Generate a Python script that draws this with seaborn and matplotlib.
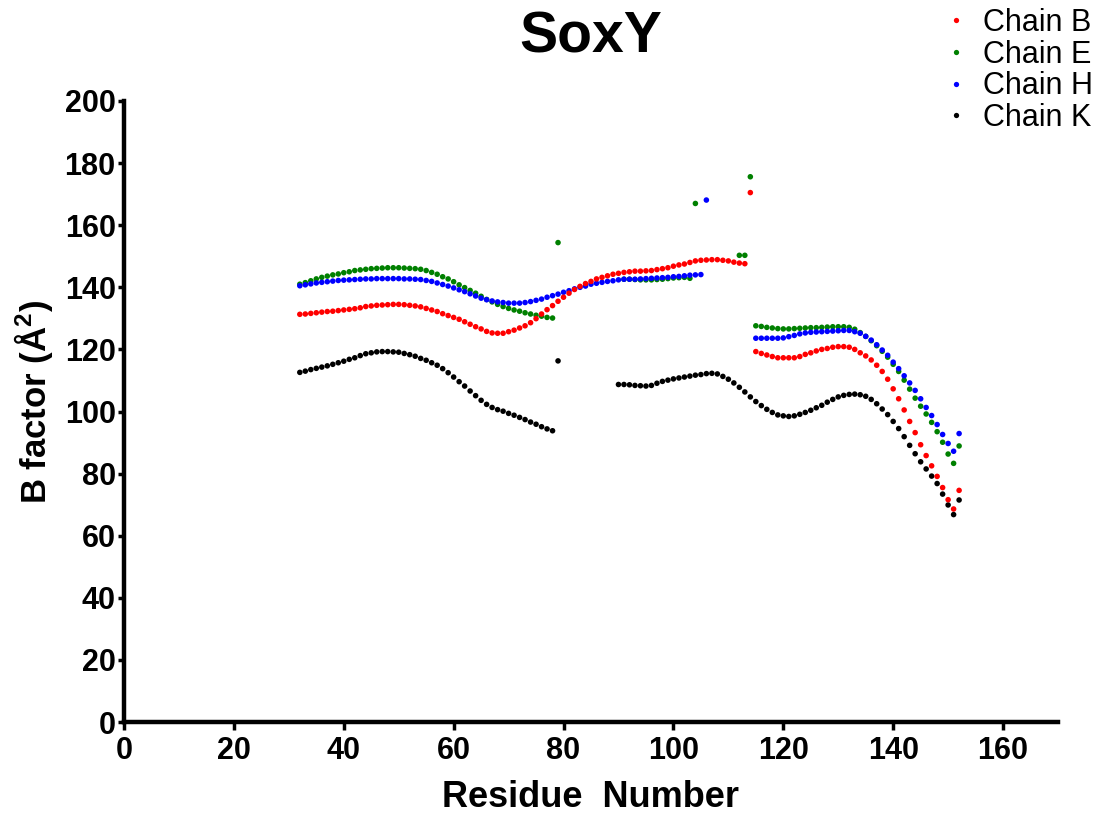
import matplotlib
matplotlib.use("Agg")
import numpy as np
import pandas as pd
import matplotlib.pyplot as plt
import seaborn as sns

# ---------------- data ----------------
chains = ["Chain B", "Chain E", "Chain H", "Chain K"]
chain_colors = ["#ff0000", "#008000", "#0000ff", "#000000"]
draw_order = ["Chain K", "Chain E", "Chain H", "Chain B"]

x_ticks = [0, 20, 40, 60, 80, 100, 120, 140, 160]
y_ticks = [0, 20, 40, 60, 80, 100, 120, 140, 160, 180, 200]

# each segment: (first residue number, consecutive B-factor values)
chain_b_segments = [
    (32, [131.3, 131.4, 131.6, 131.8, 132.0, 132.2, 132.3,
          132.5, 132.7, 132.9, 133.1, 133.4, 133.8, 134.0, 134.2, 134.3, 134.4,
          134.5, 134.5, 134.4, 134.2, 134.0, 133.7, 133.2, 132.7, 132.2, 131.5,
          130.9, 130.3, 129.7, 128.9, 128.1, 127.3, 126.6, 125.8, 125.3, 125.2,
          125.2, 125.7, 126.2, 126.9, 127.6, 128.6, 129.9, 131.4, 132.8, 134.1,
          135.5, 136.8, 138.1, 139.3, 140.3, 141.2, 141.9, 142.7, 143.2, 143.7,
          144.2, 144.5, 144.8, 145.0, 145.2,
          145.2, 145.3, 145.4, 145.7, 146.0, 146.3, 146.8, 147.2, 147.5, 148.0,
          148.5, 148.7, 148.8, 148.9, 148.9, 148.7, 148.5, 148.1, 147.8, 147.6]),
    (114, [170.5]),
    (115, [119.3, 118.7, 118.2, 117.7, 117.3, 117.3, 117.3, 117.3, 117.7, 118.4,
           118.9, 119.5, 120.0, 120.3, 120.7, 120.9, 120.9, 120.7, 120.0, 118.9,
           117.9, 116.6, 114.9, 112.9, 110.4, 107.3, 104.1, 100.5, 96.8, 93.2,
           89.3, 85.8, 82.5, 79.1, 75.5, 71.6, 68.6, 74.6]),
]

chain_e_segments = [
    (32, [141.0, 141.5, 142.1, 142.7, 143.2, 143.6, 144.0,
          144.3, 144.7, 145.0, 145.4, 145.6, 145.8, 146.0, 146.1, 146.2, 146.3,
          146.3, 146.3, 146.2, 146.1, 146.0, 145.8, 145.4, 144.8, 144.2, 143.4,
          142.7, 141.8, 140.8, 139.9, 139.0, 138.1, 137.1, 136.1, 135.3, 134.5,
          133.8, 133.2, 132.7, 132.3, 131.8, 131.4, 131.0, 130.7, 130.3, 130.1]),
    (79, [154.4]),
    (91, [142.6, 142.6, 142.5, 142.4, 142.4, 142.4, 142.5, 142.6, 142.8, 143.0,
          143.1, 143.2, 142.9]),
    (104, [167.0]),
    (112, [150.3, 150.3, 175.6]),
    (115, [127.6, 127.4, 127.1, 126.9, 126.7, 126.6, 126.6, 126.7, 126.8, 126.9,
           127.0, 127.0, 127.1, 127.2, 127.3, 127.3, 127.3, 127.1, 126.5, 125.4,
           124.2, 122.8, 121.2, 119.4, 117.5, 115.2, 112.9, 110.1, 107.2, 104.3,
           101.7, 99.2, 96.5, 93.5, 90.1, 86.3, 83.3, 88.9]),
]

chain_h_segments = [
    (32, [140.5, 140.8, 141.1, 141.4, 141.6, 141.8, 142.0,
          142.2, 142.3, 142.4, 142.5, 142.6, 142.7, 142.7, 142.8, 142.8, 142.8,
          142.8, 142.8, 142.7, 142.7, 142.6, 142.5, 142.2, 141.9, 141.4, 140.9,
          140.4, 139.8, 139.2, 138.6, 137.9, 137.2, 136.5, 136.0, 135.6, 135.3,
          135.1, 134.9, 134.9, 134.9, 135.1, 135.4, 135.8, 136.2, 136.8, 137.3,
          137.8, 138.4, 138.9, 139.5, 140.0, 140.4, 141.0, 141.3, 141.6, 141.9,
          142.1, 142.4,
          142.6, 142.6, 142.6, 142.7, 142.8, 142.9, 143.0, 143.1, 143.2, 143.4,
          143.5, 143.7, 143.9, 144.0, 144.1]),
    (106, [168.1]),
    (115, [123.6, 123.6, 123.6, 123.6, 123.6, 123.7, 124.1, 124.5, 125.0, 125.3,
           125.5, 125.6, 125.7, 125.8, 125.9, 126.0, 126.1, 126.1, 125.7, 125.2,
           124.2, 123.0, 121.5, 119.8, 118.1, 115.9, 113.8, 111.5, 109.2, 106.8,
           104.1, 101.3, 98.7, 95.8, 92.6, 89.7, 87.2, 92.9]),
]

chain_k_segments = [
    (32, [112.6, 113.0, 113.5, 113.9, 114.3, 114.7, 115.2,
          115.7, 116.2, 116.8, 117.3, 118.0, 118.6, 118.9, 119.2, 119.3, 119.3,
          119.2, 119.1, 118.7, 118.3, 117.8, 117.1, 116.5, 115.7, 114.9, 113.8,
          112.5, 111.1, 109.6, 108.2, 106.6, 105.1, 103.6, 102.3, 101.3, 100.6,
          100.1, 99.4, 98.8, 98.1, 97.4, 96.6, 95.9, 95.1, 94.4, 93.8]),
    (79, [116.3]),
    (90, [108.7, 108.7, 108.6, 108.4, 108.3, 108.2, 108.4, 109.1, 109.7, 110.1,
          110.5, 110.8, 111.1, 111.4, 111.7, 111.9, 112.2, 112.3, 112.1, 111.3,
          110.4, 109.2, 107.8, 106.3, 104.7, 103.2, 101.9, 100.7, 99.7, 98.9,
          98.6, 98.4, 98.6, 99.1, 99.7, 100.4, 101.2, 102.0, 103.0, 103.9,
          104.7, 105.2, 105.5, 105.6, 105.4, 104.9, 103.9, 102.5, 100.8, 99.0,
          96.8, 94.5, 91.9, 89.1, 86.4, 83.8, 81.5, 79.2, 76.8, 73.4,
          69.9, 66.8, 71.5]),
]

segments_by_chain = {
    "Chain B": chain_b_segments,
    "Chain E": chain_e_segments,
    "Chain H": chain_h_segments,
    "Chain K": chain_k_segments,
}

# ---------------- build long table ----------------
rows = []
for ch in draw_order:  # drawing order: black bottom ... red on top
    for start, vals in segments_by_chain[ch]:
        for i, v in enumerate(vals):
            rows.append({"Residue": start + i, "B": v, "Chain": ch})
df = pd.DataFrame(rows)

# ---------------- style ----------------
sns.set_style("ticks")
plt.rcParams["font.family"] = ["Liberation Sans", "DejaVu Sans"]
plt.rcParams["mathtext.fontset"] = "custom"
plt.rcParams["mathtext.rm"] = "Liberation Sans:bold"
plt.rcParams["mathtext.bf"] = "Liberation Sans:bold"
plt.rcParams["mathtext.it"] = "Liberation Sans:bold"
plt.rcParams["text.color"] = "black"
plt.rcParams["axes.labelcolor"] = "black"
plt.rcParams["xtick.color"] = "black"
plt.rcParams["ytick.color"] = "black"

W, H = 1103, 817
fig = plt.figure(figsize=(W / 100, H / 100), dpi=100)
ax = fig.add_axes([124 / W, 1 - 722 / H, (1058 - 124) / W, (722 - 101) / H])

palette = dict(zip(chains, chain_colors))
sns.scatterplot(data=df, x="Residue", y="B", hue="Chain", hue_order=chains,
                palette=palette, s=16, linewidth=0, ax=ax, legend=True,
                clip_on=False)

ax.set_xlim(0, 170)
ax.set_ylim(0, 200)
ax.set_xticks(x_ticks)
ax.set_yticks(y_ticks)

for side in ["top", "right"]:
    ax.spines[side].set_visible(False)
for side in ["left", "bottom"]:
    ax.spines[side].set_linewidth(3.2)
    ax.spines[side].set_color("black")

ax.tick_params(axis="x", length=6, width=2.5, pad=4, labelsize=22,
               direction="out", colors="black")
ax.tick_params(axis="y", length=4, width=2.5, pad=2, labelsize=22,
               direction="out", colors="black")
for lab in ax.get_xticklabels() + ax.get_yticklabels():
    lab.set_fontweight("bold")
    lab.set_color("black")

ax.set_title("SoxY", fontsize=41, fontweight="bold", pad=35, color="black")
ax.set_xlabel("Residue  Number", fontsize=26, fontweight="bold", color="black")
ax.xaxis.set_label_coords(0.5, -0.093)
ax.set_ylabel(r"B factor (Å$^{2}$)", fontsize=25, fontweight="bold", color="black")
ax.yaxis.set_label_coords(-0.074, 0.515)

handles, labels = ax.get_legend_handles_labels()
if ax.get_legend() is not None:
    ax.get_legend().remove()
for h in handles:
    if hasattr(h, "set_markersize"):
        h.set_markersize(3.8)
        h.set_markeredgewidth(0)
leg = fig.legend(handles, labels, loc="upper left", bbox_to_anchor=(0.853, 0.990),
                 frameon=False, fontsize=22, handlelength=1.0, handletextpad=0.38,
                 labelspacing=0.05, borderpad=0, borderaxespad=0)
for t in leg.get_texts():
    t.set_color("black")

fig.savefig("out.png", dpi=100)
